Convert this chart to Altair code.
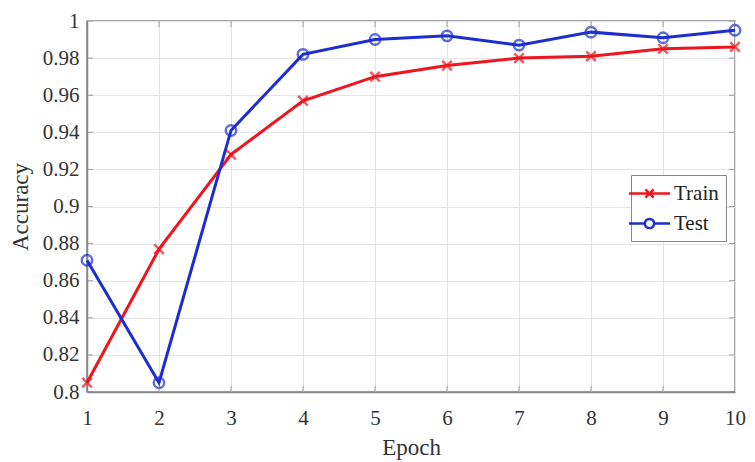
import altair as alt
import pandas as pd

epochs = [1, 2, 3, 4, 5, 6, 7, 8, 9, 10]
train = [0.805, 0.877, 0.928, 0.957, 0.970, 0.976, 0.980, 0.981, 0.985, 0.986]
test = [0.871, 0.805, 0.941, 0.982, 0.990, 0.992, 0.987, 0.994, 0.991, 0.995]
series = ["Train", "Test"]
colors = ["#f0141e", "#1c2ed0"]
x_ticks = [1, 2, 3, 4, 5, 6, 7, 8, 9, 10]
y_ticks = [0.8, 0.82, 0.84, 0.86, 0.88, 0.9, 0.92, 0.94, 0.96, 0.98, 1.0]

df = pd.DataFrame(
    {"Epoch": epochs * 2,
     "Accuracy": train + test,
     "Series": ["Train"] * len(epochs) + ["Test"] * len(epochs)}
)
df["Key"] = df["Series"]

FONT = "Liberation Serif"
xs = alt.Scale(domain=[1, 10], nice=False, zero=False)
ys = alt.Scale(domain=[0.8, 1.0], nice=False, zero=False)
cs = alt.Scale(domain=series, range=colors)

cross = "M-0.55,-0.55L0.55,0.55M-0.55,0.55L0.55,-0.55"
circ = "M-0.6,0A0.6,0.6 0 1,0 0.6,0A0.6,0.6 0 1,0 -0.6,0"
leg_cross = "M-2,0H2M-0.4,-0.4L0.4,0.4M-0.4,0.4L0.4,-0.4"
leg_circ = "M-2,0H-0.45M0.45,0H2M-0.45,0A0.45,0.45 0 1,0 0.45,0A0.45,0.45 0 1,0 -0.45,0"

x_axis = alt.Axis(values=x_ticks, title="Epoch", format="d",
                  grid=True, ticks=False, labelOverlap=False, labelFlush=False)
y_axis = alt.Axis(values=y_ticks, title="Accuracy", format=".2~f",
                  grid=True, ticks=False, labelOverlap=False)

base = alt.Chart(df)

lines = base.mark_line(strokeWidth=3).encode(
    x=alt.X("Epoch:Q", scale=xs, axis=x_axis),
    y=alt.Y("Accuracy:Q", scale=ys, axis=y_axis),
    color=alt.Color("Series:N", scale=cs, legend=None),
    detail="Series:N",
)

pts = base.mark_point(filled=False, strokeWidth=2.5, size=300).encode(
    x=alt.X("Epoch:Q", scale=xs, axis=x_axis),
    y=alt.Y("Accuracy:Q", scale=ys, axis=y_axis),
    color=alt.Color("Series:N", scale=cs, legend=None),
    shape=alt.Shape("Series:N", scale=alt.Scale(domain=series, range=[cross, circ]), legend=None),
)

leg = base.mark_point(opacity=0, filled=False).encode(
    x=alt.X("Epoch:Q", scale=xs, axis=x_axis),
    y=alt.Y("Accuracy:Q", scale=ys, axis=y_axis),
    color=alt.Color("Key:N", scale=alt.Scale(domain=series, range=colors),
                    legend=alt.Legend(title=None, orient="none", legendX=544, legendY=154,
                                      symbolOpacity=1, symbolStrokeWidth=2.5, symbolSize=420,
                                      labelFont=FONT, labelFontSize=21, labelColor="#222",
                                      strokeColor="#888", fillColor="white", padding=7,
                                      rowPadding=8, labelOffset=13, symbolFillColor="white")),
    shape=alt.Shape("Key:N", scale=alt.Scale(domain=series, range=[leg_cross, leg_circ])),
)

# inward tick marks (MATLAB style)
tx = pd.DataFrame({"Epoch": x_ticks})
ty = pd.DataFrame({"Accuracy": y_ticks})
tick_kw = dict(size=12, color="#777", clip=True, thickness=1)
xt_bot = alt.Chart(tx).mark_tick(orient="vertical", **tick_kw).encode(
    x=alt.X("Epoch:Q", scale=xs, axis=x_axis), y=alt.datum(0.8, scale=ys, axis=y_axis))
xt_top = alt.Chart(tx).mark_tick(orient="vertical", **tick_kw).encode(
    x=alt.X("Epoch:Q", scale=xs, axis=x_axis), y=alt.datum(1.0, scale=ys, axis=y_axis))
yt_l = alt.Chart(ty).mark_tick(orient="horizontal", **tick_kw).encode(
    y=alt.Y("Accuracy:Q", scale=ys, axis=y_axis), x=alt.datum(1, scale=xs, axis=x_axis))
yt_r = alt.Chart(ty).mark_tick(orient="horizontal", **tick_kw).encode(
    y=alt.Y("Accuracy:Q", scale=ys, axis=y_axis), x=alt.datum(10, scale=xs, axis=x_axis))

chart = alt.layer(lines, pts, leg, xt_bot, xt_top, yt_l, yt_r).resolve_scale(
    color="independent", shape="independent"
).properties(
    width=648, height=371,
    autosize=alt.AutoSizeParams(type="none"),
    padding={"left": 79, "top": 13, "right": 12, "bottom": 70},
).configure_view(
    stroke="#888", strokeWidth=1.5
).configure_axis(
    labelFont=FONT, labelFontSize=21, labelColor="#333",
    titleFont=FONT, titleFontSize=23, titleColor="#333", titleFontWeight="normal",
    gridColor="#e4e4e4", gridWidth=1, domainColor="#888", domainWidth=1.5,
    labelOverlap=False,
).configure_axisX(labelPadding=15, titlePadding=8).configure_axisY(labelPadding=8, titlePadding=10)

chart.save("out.html", embed_options={"renderer": "svg", "actions": False})
